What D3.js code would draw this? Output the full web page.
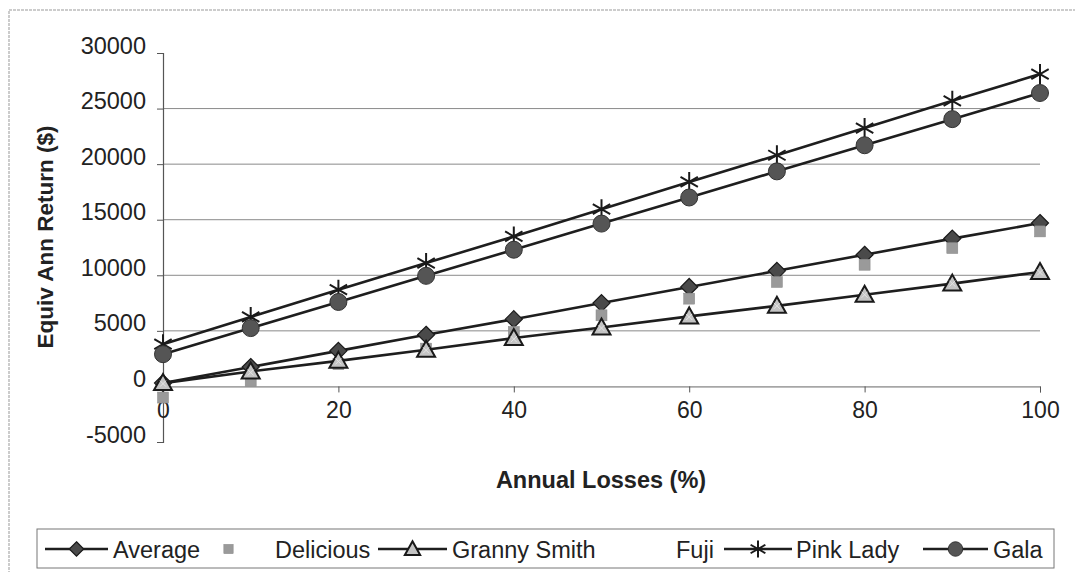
<!DOCTYPE html>
<html><head><meta charset="utf-8">
<script src="https://cdn.jsdelivr.net/npm/d3@7"></script>
<style>
html,body{margin:0;padding:0;background:#fff;}
svg{display:block;font-family:"Liberation Sans",Arial,sans-serif;}
</style></head>
<body>
<svg id="c" width="1075" height="572"></svg>
<script>
// ---- data ----
const losses = [0, 10, 20, 30, 40, 50, 60, 70, 80, 90, 100];
const average = [300, 1750, 3200, 4650, 6050, 7500, 8950, 10400, 11850, 13300, 14700];
const delicious = [-1000, 500, 2000, 3400, 4900, 6400, 7900, 9400, 10950, 12450, 13950];
const grannySmith = [300, 1350, 2300, 3300, 4350, 5300, 6300, 7250, 8250, 9250, 10300];
const fuji = [250, 1250, 2250, 3250, 4250, 5250, 6250, 7250, 8250, 9250, 10250];
const pinkLady = [3800, 6250, 8700, 11100, 13500, 15950, 18400, 20800, 23250, 25700, 28100];
const gala = [2900, 5250, 7600, 9950, 12300, 14650, 17000, 19350, 21700, 24050, 26400];
const seriesNames = ["Average", "Delicious", "Granny Smith", "Fuji", "Pink Lady", "Gala"];
const yTicks = [-5000, 0, 5000, 10000, 15000, 20000, 25000, 30000];
const xTicks = [0, 20, 40, 60, 80, 100];
const xTitle = "Annual Losses (%)";
const yTitle = "Equiv Ann Return ($)";

const seriesValues = [average, delicious, grannySmith, fuji, pinkLady, gala];
const styles = [
  {line: true,  marker: "diamond"},
  {line: false, marker: "square"},
  {line: true,  marker: "triangle"},
  {line: false, marker: "none"},
  {line: true,  marker: "star"},
  {line: true,  marker: "circle"}
];
// legend layout: symbol start, symbol end, text start
const legendLayout = [[45, 108, 113], [197, 260, 275], [378, 447, 452], [0, 0, 676], [724, 792, 796], [923, 988, 993]];

const svg = d3.select("#c");
const x = d3.scaleLinear().domain([0, 100]).range([163, 1040]);
const y = d3.scaleLinear().domain([-5000, 30000]).range([442, 53]);

// outer chart border
svg.append("rect").attr("x", 9).attr("y", 10).attr("width", 1100).attr("height", 620)
  .attr("fill", "none").attr("stroke", "#999").attr("stroke-width", 1).attr("stroke-dasharray", "3,1");

// gridlines
svg.append("g").selectAll("line").data(yTicks.filter(d => d > 0 && d < 30000)).join("line")
  .attr("x1", x(0)).attr("x2", x(100)).attr("y1", d => y(d)).attr("y2", d => y(d))
  .attr("stroke", "#8a8a8a").attr("stroke-width", 1);

// y axis
const yAxis = d3.axisLeft(y).tickValues(yTicks).tickSize(6).tickFormat(d => String(d));
const gy = svg.append("g").attr("transform", `translate(${x(0)},0)`).call(yAxis);
gy.select(".domain").attr("stroke", "#555").attr("stroke-width", 1.2);
gy.selectAll(".tick line").attr("stroke", "#555");
gy.selectAll(".tick text").attr("font-size", 23.5).attr("fill", "#222")
  .attr("font-family", "Liberation Sans, Arial, sans-serif").attr("x", -17).attr("dy", "0.0em");

// x axis at y=0
const xAxis = d3.axisBottom(x).tickValues(xTicks).tickSize(6).tickPadding(9);
const gx = svg.append("g").attr("transform", `translate(0,${y(0)})`).call(xAxis);
gx.select(".domain").attr("stroke", "#666").attr("stroke-width", 1);
gx.selectAll(".tick line").attr("stroke", "#555");
gx.selectAll(".tick text").attr("font-size", 23).attr("fill", "#222")
  .attr("font-family", "Liberation Sans, Arial, sans-serif");

// axis titles
svg.append("text").attr("x", 601).attr("y", 488).attr("text-anchor", "middle")
  .attr("font-size", 23.5).attr("font-weight", "bold").attr("fill", "#222").text(xTitle);
svg.append("text").attr("transform", "translate(53,237) rotate(-90)").attr("text-anchor", "middle")
  .attr("font-size", 22.5).attr("fill", "#222").attr("font-weight", "bold").text(yTitle);

// markers
function drawMarker(g, type, cx, cy, s) {
  s = s || 1;
  if (type === "diamond") {
    const r = 8.5 * s;
    g.append("path").attr("d", `M${cx},${cy-r}L${cx+r},${cy}L${cx},${cy+r}L${cx-r},${cy}Z`)
      .attr("fill", "#4a4a4a").attr("stroke", "#1a1a1a").attr("stroke-width", 1.2);
  } else if (type === "square") {
    const h = 5.5 * s;
    g.append("rect").attr("x", cx-h).attr("y", cy-h).attr("width", 2*h).attr("height", 2*h)
      .attr("fill", "#9a9a9a").attr("stroke", "#888").attr("stroke-width", 0.5);
  } else if (type === "triangle") {
    g.append("path").attr("d", `M${cx},${cy-9*s}L${cx+9*s},${cy+7*s}L${cx-9*s},${cy+7*s}Z`)
      .attr("fill", "#c4c4c4").attr("stroke", "#1a1a1a").attr("stroke-width", 2);
  } else if (type === "star") {
    const r = 10 * s;
    g.append("path").attr("d",
      `M${cx},${cy-r}L${cx},${cy+r}` +
      `M${cx-r*0.87},${cy-r*0.5}L${cx+r*0.87},${cy+r*0.5}` +
      `M${cx-r*0.87},${cy+r*0.5}L${cx+r*0.87},${cy-r*0.5}`)
      .attr("stroke", "#1a1a1a").attr("stroke-width", 2).attr("fill", "none");
  } else if (type === "circle") {
    g.append("circle").attr("cx", cx).attr("cy", cy).attr("r", 8.5 * s)
      .attr("fill", "#555").attr("stroke", "#333").attr("stroke-width", 1);
  } else if (type === "faint") {
    g.append("path").attr("d", `M${cx-3},${cy-3}L${cx+3},${cy+3}M${cx-3},${cy+3}L${cx+3},${cy-3}`)
      .attr("stroke", "#e4e4e4").attr("stroke-width", 1);
  }
}

const line = d3.line().x((d, i) => x(losses[i])).y(d => y(d));
seriesValues.forEach((vals, si) => {
  const st = styles[si];
  const g = svg.append("g").attr("class", "series");
  if (st.line) {
    g.append("path").datum(vals).attr("d", line).attr("fill", "none")
      .attr("stroke", "#1e1e1e").attr("stroke-width", 2.6);
  }
  vals.forEach((v, i) => drawMarker(g, st.marker === "none" ? "faint" : st.marker, x(losses[i]), y(v)));
});

// legend
const lg = svg.append("g");
lg.append("rect").attr("x", 37).attr("y", 529).attr("width", 1017).attr("height", 39)
  .attr("fill", "#fff").attr("stroke", "#777").attr("stroke-width", 1);
const legendY = 549;
seriesNames.forEach((name, si) => {
  const st = styles[si];
  const [s0, s1, tx] = legendLayout[si];
  if (st.line) {
    lg.append("line").attr("x1", s0).attr("x2", s1).attr("y1", legendY).attr("y2", legendY)
      .attr("stroke", "#1e1e1e").attr("stroke-width", 2.4);
  }
  if (st.marker !== "none") drawMarker(lg, st.marker, (s0 + s1) / 2, legendY, 0.85);
  lg.append("text").attr("font-size", 23.5).attr("fill", "#222")
    .attr("x", tx).attr("y", legendY + 8.5).text(name);
});
</script>
</body></html>
